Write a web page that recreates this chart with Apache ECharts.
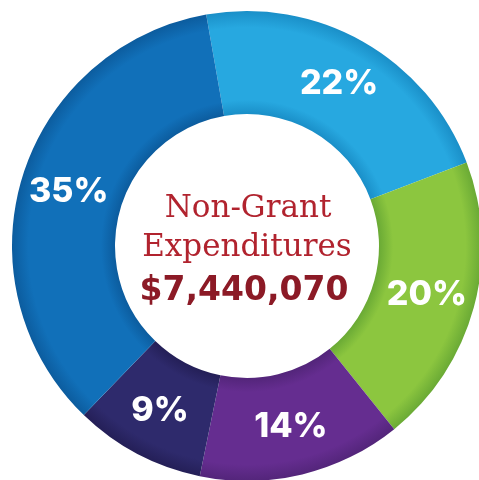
<!DOCTYPE html>
<html>
<head>
<meta charset="utf-8">
<script src="https://cdn.jsdelivr.net/npm/echarts@6/dist/echarts.min.js"></script>
<style>
  html, body { margin: 0; padding: 0; background: #fff; }
  #chart { width: 479px; height: 480px; }
</style>
</head>
<body>
<div id="chart"></div>
<script>
// slices, clockwise from the top
var categories = ['A', 'B', 'C', 'D', 'E'];
var shares = [22, 20, 14, 9, 35];
var baseColors = ['#27a8e0', '#8cc63f', '#652d90', '#2e2a6c', '#1170b9'];
var edgeColors = ['#1a8fc8', '#6aaa35', '#53257a', '#241f57', '#0c5c9e'];
var titleLines = ['Non-Grant', 'Expenditures'];
var totalLabel = '$7,440,070';

var cx = 247, cy = 246, rIn = 132, rOut = 235;

var chart = echarts.init(document.getElementById('chart'));

var data = [];
for (var i = 0; i < categories.length; i++) {
  var k = rIn / rOut;
  data.push({
    name: categories[i],
    value: shares[i],
    itemStyle: {
      color: new echarts.graphic.RadialGradient(cx, cy, rOut, [
        { offset: k, color: edgeColors[i] },
        { offset: k + 0.06, color: baseColors[i] },
        { offset: 0.93, color: baseColors[i] },
        { offset: 1, color: edgeColors[i] }
      ], true)
    }
  });
}

var option = {
  animation: false,
  series: [{
    type: 'pie',
    center: [cx, cy],
    radius: [rIn, rOut],
    startAngle: 100,
    clockwise: true,
    avoidLabelOverlap: false,
    itemStyle: { borderWidth: 0 },
    label: {
      show: true,
      position: 'inside',
      formatter: '{c}%',
      color: '#fff',
      fontFamily: 'Inter',
      fontWeight: 800,
      fontSize: 34
    },
    labelLine: { show: false },
    emphasis: { disabled: true },
    data: data
  }],
  graphic: [
    {
      type: 'text', x: cx + 1, y: 193,
      style: { text: titleLines[0], fill: '#b1232e', font: '31px "DejaVu Serif"', textAlign: 'center', textVerticalAlign: 'top' }
    },
    {
      type: 'text', x: cx, y: 232,
      style: { text: titleLines[1], fill: '#b1232e', font: '31px "DejaVu Serif"', textAlign: 'center', textVerticalAlign: 'top' }
    },
    {
      type: 'text', x: cx - 3, y: 275,
      style: { text: totalLabel, fill: '#8c1a26', font: 'bold 33px "DejaVu Sans"', textAlign: 'center', textVerticalAlign: 'top' }
    }
  ]
};

chart.setOption(option);
</script>
</body>
</html>
